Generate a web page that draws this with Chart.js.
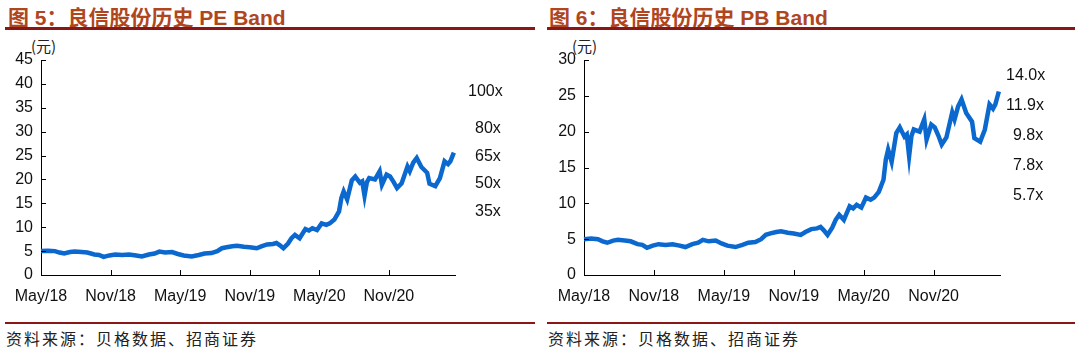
<!DOCTYPE html>
<html>
<head>
<meta charset="utf-8">
<script src="https://cdn.jsdelivr.net/npm/chart.js@4"></script>
<style>
  body { margin: 0; width: 1080px; height: 353px; background: #fff; position: relative; overflow: hidden;
         font-family: "Liberation Sans", Arial, sans-serif; }
  .title { position: absolute; top: 1px; font-size: 21px; font-weight: bold; color: #b0461e;
           font-family: "Liberation Sans", "Noto Sans CJK SC", sans-serif; white-space: nowrap; }
  .rule { position: absolute; height: 3px; background: #8a1616; }
  .unit { position: absolute; top: 35px; font-size: 15px; color: #222; font-family: "Noto Sans CJK SC", sans-serif; }
  .band { position: absolute; font-size: 16px; color: #111; }
  .src { position: absolute; top: 326px; font-size: 16px; color: #222; font-family: "Noto Sans CJK SC", serif;
         letter-spacing: 2px; white-space: nowrap; }
  canvas { position: absolute; }
</style>
</head>
<body>
<div class="title" style="left:8px">图 5：良信股份历史 PE Band</div>
<div class="title" style="left:549px">图 6：良信股份历史 PB Band</div>
<div class="rule" style="left:5px; width:530px; top:27px"></div>
<div class="rule" style="left:547px; width:528px; top:27px"></div>
<div class="unit" style="left:31px">(元)</div>
<div class="unit" style="left:572px">(元)</div>
<div style="position:absolute;left:0;top:40px;width:540px;height:270px"><canvas id="peChart"></canvas></div>
<div style="position:absolute;left:540px;top:40px;width:540px;height:270px"><canvas id="pbChart"></canvas></div>
<div class="rule" style="left:5px; width:530px; top:322px; height:2px"></div>
<div class="rule" style="left:547px; width:528px; top:322px; height:2px"></div>
<div class="src" style="left:6px">资料来源：贝格数据、招商证券</div>
<div class="src" style="left:548px">资料来源：贝格数据、招商证券</div>

<script>
// months counted from May 2018
const monthIdx = [0, 0.6, 1.2, 1.6, 2.0, 2.5, 2.9, 3.5, 4.0, 4.6, 5.0, 5.4, 5.9, 6.4, 7.0, 7.6, 8.2, 8.7, 9.3, 9.8,
  10.2, 10.7, 11.3, 11.8, 12.3, 13.0, 13.6, 14.1, 14.7, 15.2, 15.6, 16.0, 16.5, 16.9, 17.5, 18.0, 18.6, 19.0, 19.5, 20.0,
  20.3, 20.6, 20.9, 21.3, 21.6, 21.9, 22.3, 22.8, 23.1, 23.4, 23.8, 24.2, 24.6, 24.9, 25.3, 25.7, 25.9, 26.1, 26.4, 26.8,
  27.1, 27.5, 27.7, 27.9, 28.1, 28.3, 28.8, 29.2, 29.4, 29.8, 30.1, 30.4, 30.7, 31.1, 31.6, 31.8, 32.1, 32.4, 32.8, 33.3,
  33.5, 34.0, 34.4, 34.8, 35.1, 35.3, 35.6];
const price = [5.0, 5.1, 5.0, 4.7, 4.5, 4.8, 4.9, 4.8, 4.7, 4.3, 4.2, 3.8, 4.1, 4.3, 4.2, 4.3, 4.1, 3.9, 4.3, 4.5,
  4.9, 4.7, 4.8, 4.4, 4.1, 3.9, 4.2, 4.5, 4.6, 5.0, 5.6, 5.8, 6.0, 6.1, 5.9, 5.8, 5.6, 6.0, 6.4, 6.5,
  6.7, 6.2, 5.6, 6.6, 7.7, 8.4, 7.7, 9.6, 9.3, 9.8, 9.4, 10.8, 10.5, 10.8, 11.6, 13.3, 16.1, 17.5, 15.8, 19.8,
  20.6, 19.3, 19.6, 16.6, 19.4, 20.3, 20.0, 21.7, 18.9, 21.0, 20.6, 19.5, 18.2, 19.2, 22.7, 21.7, 23.5, 24.5, 22.6, 21.4,
  19.1, 18.6, 20.3, 23.8, 23.2, 23.8, 25.6];

const tickMonths = [0, 6, 12, 18, 24, 30];
const tickLabels = ['May/18', 'Nov/18', 'May/19', 'Nov/19', 'May/20', 'Nov/20'];

const peBands = ['100x', '80x', '65x', '50x', '35x'];
const pbBands = ['14.0x', '11.9x', '9.8x', '7.8x', '5.7x'];

// label placement (layout only)
const peBandPos = [[468, 82], [475, 119], [475, 147], [475, 174], [475, 202]];
const pbBandPos = [[1006, 66], [1006, 96], [1013, 126], [1013, 156], [1013, 186]];

const addBands = (names, pos) => {
  names.forEach((n, i) => {
    const d = document.createElement('div');
    d.className = 'band';
    d.textContent = n;
    d.style.left = pos[i][0] + 'px';
    d.style.top = pos[i][1] + 'px';
    document.body.appendChild(d);
  });
};
addBands(peBands, peBandPos);
addBands(pbBands, pbBandPos);

// tick marks drawn inward from the axes
const innerTicks = {
  id: 'innerTicks',
  afterDatasetsDraw(chart) {
    const ctx = chart.ctx, a = chart.chartArea;
    const xs = chart.scales.x, ys = chart.scales.y;
    ctx.save();
    ctx.strokeStyle = '#000';
    ctx.lineWidth = 1;
    ys.ticks.forEach(t => {
      const y = Math.round(ys.getPixelForValue(t.value)) + 0.5;
      ctx.beginPath(); ctx.moveTo(a.left, y); ctx.lineTo(a.left + 5, y); ctx.stroke();
    });
    xs.ticks.forEach(t => {
      const x = Math.round(xs.getPixelForValue(t.value)) + 0.5;
      ctx.beginPath(); ctx.moveTo(x, a.bottom); ctx.lineTo(x, a.bottom - 5); ctx.stroke();
    });
    ctx.restore();
  }
};

const makeChart = (id, yMax, yWidth, padRight) => {
  const pts = monthIdx.map((m, i) => ({ x: m, y: price[i] }));
  return new Chart(document.getElementById(id), {
    type: 'line',
    data: {
      datasets: [{
        data: pts,
        borderColor: '#0b68cf',
        borderWidth: 4.5,
        pointRadius: 0,
        tension: 0,
        fill: false,
        clip: false
      }]
    },
    options: {
      responsive: true,
      maintainAspectRatio: false,
      animation: false,
      layout: { padding: { top: 20, right: padRight, left: 0, bottom: 0 } },
      plugins: { legend: { display: false }, tooltip: { enabled: false } },
      scales: {
        x: {
          type: 'linear',
          min: 0,
          max: 35.7,
          afterBuildTicks: (s) => { s.ticks = tickMonths.map(v => ({ value: v })); },
          afterFit: (s) => { s.height = 35; },
          grid: { display: false, drawTicks: false },
          border: { display: true, color: '#000', width: 1 },
          ticks: {
            padding: 12,
            maxRotation: 0,
            autoSkip: false,
            color: '#111',
            font: { family: 'Liberation Sans', size: 16 },
            callback: (v) => tickLabels[tickMonths.indexOf(v)]
          }
        },
        y: {
          min: 0,
          max: yMax,
          afterFit: (s) => { s.width = yWidth; },
          grid: { display: false, drawTicks: false },
          border: { display: true, color: '#000', width: 1 },
          ticks: {
            stepSize: 5,
            padding: 8,
            color: '#111',
            font: { family: 'Liberation Sans', size: 16 }
          }
        }
      }
    },
    plugins: [innerTicks]
  });
};

makeChart('peChart', 45, 41, 85);
makeChart('pbChart', 30, 44, 80);
</script>
</body>
</html>
